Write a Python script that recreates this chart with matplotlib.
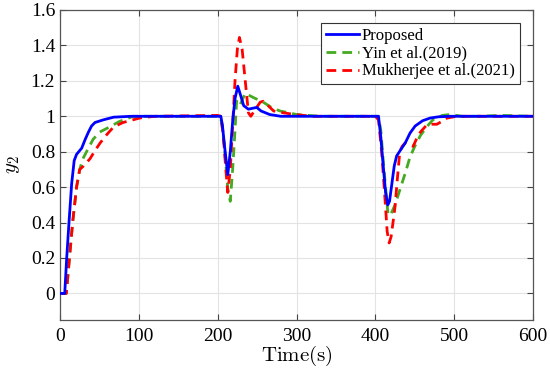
import matplotlib
matplotlib.use("Agg")
import matplotlib.pyplot as plt

plt.rcParams['font.family'] = ['Liberation Serif', 'DejaVu Serif']
plt.rcParams['mathtext.fontset'] = 'cm'

# Proposed
t_prop = [0, 6, 8.5, 11.4, 14.8, 18, 21, 27.5, 32, 36, 40, 44.4, 55, 68, 90, 200,
          204, 206, 209, 212.8, 216, 219, 222, 225.5, 229, 233, 239, 244, 249.6, 255, 266, 280, 300,
          400, 404, 407, 410, 413, 415.8, 418, 421, 424, 427, 432, 438, 444, 450.5, 460, 469.5, 480, 495, 600]
y_prop = [0, 0, 0.2, 0.4, 0.62, 0.75, 0.785, 0.82, 0.87, 0.91, 0.945, 0.965, 0.98, 0.995, 1.0, 1.0,
          1.0, 0.95, 0.82, 0.67, 0.8, 0.97, 1.1, 1.17, 1.12, 1.06, 1.04, 1.045, 1.05, 1.03, 1.01, 1.0, 1.0,
          1.0, 1.0, 0.88, 0.72, 0.57, 0.5, 0.52, 0.62, 0.72, 0.776, 0.81, 0.85, 0.905, 0.945, 0.975, 0.99, 0.997, 1.0, 1.0]

# Yin et al. (2019)
t_yin = [0, 8, 12, 16, 21, 25, 29, 36, 42, 50, 63, 75, 93, 200,
         204, 207, 210, 213, 216, 219, 222, 224, 228, 235, 239, 248, 256, 268, 279, 290, 300, 330,
         400, 404, 407, 410, 413, 416, 419, 425, 431.5, 438, 444, 450, 457, 465, 473, 485, 495, 510, 530, 560, 600]
y_yin = [0, 0, 0.2, 0.4, 0.6, 0.70, 0.76, 0.82, 0.87, 0.91, 0.94, 0.97, 1.0, 1.0,
         0.99, 0.9, 0.75, 0.58, 0.52, 0.7, 0.92, 1.086, 1.06, 1.13, 1.12, 1.1, 1.085, 1.05, 1.03, 1.02, 1.01, 1.0,
         1.0, 1.0, 0.92, 0.75, 0.6, 0.45, 0.44, 0.50, 0.59, 0.68, 0.77, 0.83, 0.89, 0.94, 0.98, 1.005, 1.01, 1.0, 1.0, 1.005, 1.0]

# Mukherjee et al. (2021)
t_muk = [0, 8, 12, 16, 21, 25, 30, 38, 45, 51, 60, 68, 80, 101, 120, 200,
         204, 207, 210, 212.8, 216, 219, 222, 225, 227.6, 231, 235, 239, 242, 248, 254, 258, 264, 271, 283, 298, 320,
         400, 404, 408, 412, 415, 417.5, 420, 423, 425, 428, 431, 434, 438, 443, 448, 452, 457, 465, 472, 478, 484, 491, 503, 600]
y_muk = [0, 0, 0.2, 0.4, 0.6, 0.70, 0.72, 0.76, 0.81, 0.85, 0.9, 0.94, 0.965, 0.99, 1.0, 1.005,
         1.0, 0.9, 0.72, 0.57, 0.7, 0.95, 1.2, 1.38, 1.445, 1.38, 1.2, 1.02, 1.0, 1.04, 1.08, 1.085, 1.06, 1.03, 1.02, 1.01, 1.0,
         1.0, 0.98, 0.8, 0.55, 0.35, 0.285, 0.32, 0.42, 0.49, 0.65, 0.8, 0.83, 0.85, 0.84, 0.83, 0.87, 0.91, 0.95, 0.955, 0.955, 0.97, 0.99, 1.0, 1.0]

labels = ['Proposed', 'Yin et al.(2019)', 'Mukherjee et al.(2021)']
x_ticks = [0, 100, 200, 300, 400, 500, 600]
y_ticks = [0, 0.2, 0.4, 0.6, 0.8, 1, 1.2, 1.4, 1.6]
y_ticklabels = ['0', '0.2', '0.4', '0.6', '0.8', '1', '1.2', '1.4', '1.6']

fig = plt.figure(figsize=(5.5, 3.72), dpi=100)
ax = fig.add_axes([60/550, 52/372, 473/550, 310/372])

ax.plot(t_prop, y_prop, color='#0000FF', lw=2.0, label=labels[0], zorder=5)
ax.plot(t_yin, y_yin, color='#44AA22', lw=2.0, ls=(0, (3.5, 2.2)), label=labels[1], zorder=3)
ax.plot(t_muk, y_muk, color='#FF0000', lw=2.0, ls=(0, (3.5, 2.2)), label=labels[2], zorder=4)

ax.set_xlim(0, 600)
ax.set_ylim(-0.15, 1.6)
ax.set_xticks(x_ticks)
ax.set_yticks(y_ticks)
ax.set_yticklabels(y_ticklabels)
ax.grid(True, color='#e3e3e3', lw=0.8)
ax.set_axisbelow(True)
ax.tick_params(direction='in', top=True, right=True, labelsize=14, length=4, color='#444444')
ax.tick_params(axis='x', pad=6)
for s in ax.spines.values():
    s.set_color('#555555')
    s.set_linewidth(0.9)

ax.set_xlabel(r'$\mathrm{Time(s)}$', fontsize=15, labelpad=-1)
ax.set_ylabel(r'$y_2$', fontsize=15, labelpad=6)

leg = ax.legend(loc='upper right', bbox_to_anchor=(0.972, 0.958), fontsize=12,
                frameon=True, fancybox=False, edgecolor='#333333', framealpha=1,
                handlelength=2.0, handletextpad=0.15, borderpad=0.3, labelspacing=0.1,
                borderaxespad=0)
leg.get_frame().set_linewidth(0.8)

fig.savefig('out.png', dpi=100)
